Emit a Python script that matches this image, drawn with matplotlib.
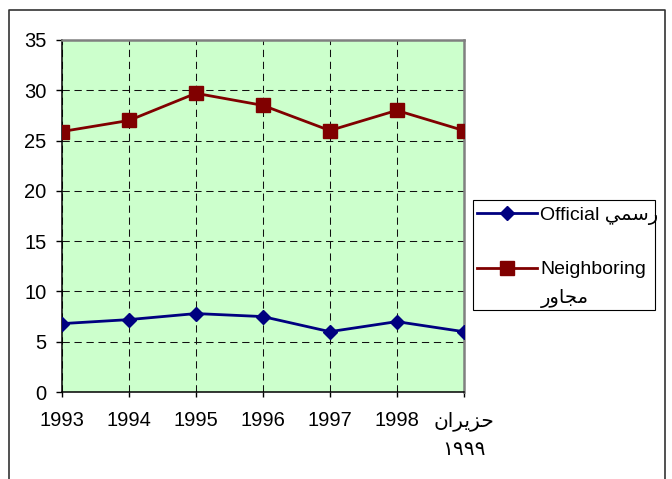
import matplotlib
matplotlib.use("Agg")
import matplotlib.pyplot as plt
from matplotlib.lines import Line2D
from matplotlib.patches import Rectangle

# Arabic text is given in presentation forms, in visual (left-to-right) order,
# because matplotlib does no Arabic shaping.
AR_RASMI = "\uFEF2\uFEE4\uFEB3\uFEAD"            # رسمي
AR_MUJAWIR = "\uFEAD\uFEED\uFE8E\uFEA0\uFEE3"     # مجاور
AR_HAZIRAN = "\uFEE5\uFE8D\uFEAE\uFEF3\uFEB0\uFEA3"  # حزيران
AR_1999 = "\u0661\u0669\u0669\u0669"              # ١٩٩٩

years = ["1993", "1994", "1995", "1996", "1997", "1998", AR_HAZIRAN + "\n" + AR_1999]
official = [6.8, 7.2, 7.8, 7.5, 6.0, 7.0, 6.0]
neighboring = [25.9, 27.0, 29.7, 28.5, 26.0, 28.0, 26.0]

plt.rcParams["font.family"] = ["Liberation Sans", "DejaVu Sans"]

fig = plt.figure(figsize=(6.72, 4.79), dpi=100)
ax = fig.add_axes([0.0923, 0.1816, 0.5977, 0.7349])
ax.set_facecolor("#CCFFCC")

x = list(range(len(years)))
ax.plot(x, official, color="#000080", lw=2, marker="D", ms=7.5,
        label="Official " + AR_RASMI, zorder=3)
ax.plot(x, neighboring, color="#800000", lw=2, marker="s", ms=9.5,
        label="Neighboring", zorder=3)

ax.set_xlim(0, len(years) - 1)
ax.set_ylim(0, 35)
ax.set_yticks(range(0, 36, 5))
ax.set_xticks(x)
ax.set_xticklabels(years)
for lab in ax.get_xticklabels():
    lab.set_linespacing(1.6)

ax.tick_params(axis="y", direction="out", length=4.3, width=1, pad=7, labelsize=14.5)
ax.tick_params(axis="x", direction="out", length=3.6, width=1, pad=10, labelsize=14.5)
ax.grid(True, color="#111111", linestyle=(0, (7, 4.5)), linewidth=0.75)
ax.set_axisbelow(True)

for s in ["left", "bottom"]:
    ax.spines[s].set_color("black")
    ax.spines[s].set_linewidth(1.1)
for s in ["top", "right"]:
    ax.spines[s].set_color("#808080")
    ax.spines[s].set_linewidth(1.8)

# legend
leg = ax.legend(loc="upper left", bbox_to_anchor=(477 / 672, 1 - 206 / 479),
                bbox_transform=fig.transFigure, frameon=False, fontsize=14,
                handlelength=3.1, handletextpad=0.15, labelspacing=1.86,
                borderpad=0, borderaxespad=0)
fig.text(541 / 672, 1 - 298 / 479, AR_MUJAWIR, fontsize=14, va="center", ha="left")
fig.add_artist(Rectangle((473 / 672, 1 - 310 / 479), 182 / 672, 110 / 479,
                         transform=fig.transFigure, fill=False,
                         edgecolor="black", lw=0.8))

# outer frame
fig.add_artist(Line2D([9 / 672, 9 / 672, 665 / 672, 665 / 672],
                      [-0.01, 1 - 10 / 479, 1 - 10 / 479, -0.01],
                      transform=fig.transFigure, color="#333333", lw=1.2))

fig.savefig("out.png", dpi=100)
